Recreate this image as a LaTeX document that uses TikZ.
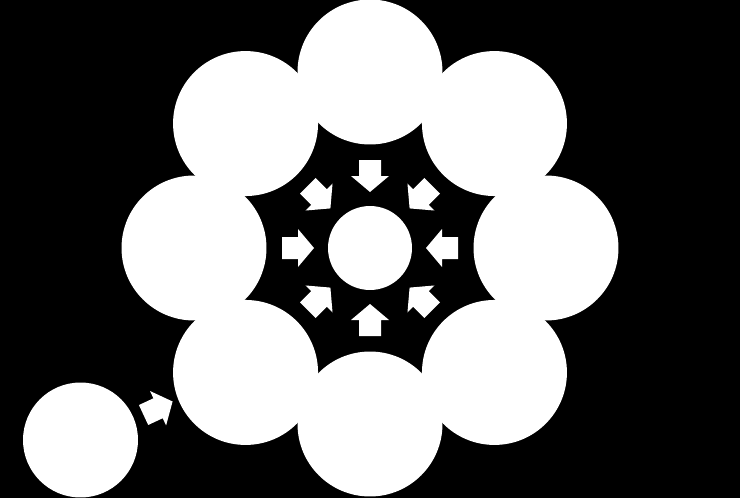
\documentclass[tikz,border=0pt]{standalone}
\usetikzlibrary{calc}
\begin{document}
\begin{tikzpicture}[x=0.02cm,y=0.02cm,
  disc/.style={circle, fill=white, draw=none, inner sep=0pt, minimum size=#1},
  pics/blockarrow/.style={code={\fill[white] (-16,-11) -- (0,-11) -- (0,-19) -- (16,0) -- (0,19) -- (0,11) -- (-16,11) -- cycle;}}]
\fill[black] (0,0) rectangle (740,498);
\useasboundingbox (0,0) rectangle (740,498);
\coordinate (c) at (370,250);
\foreach \a/\n in {0/r,45/tr,90/t,135/tl,180/l,225/bl,270/b,315/br}{
  \node[disc=2.9cm] (\n) at ($(c)+(\a:176)$) {};
}
\node[disc=1.68cm] (center) at (c) {};
\node[disc=2.3cm] (small) at (80.5,58) {};
\foreach \a in {0,45,...,315}{
  \pic[rotate=\a+180] at ($(c)+(\a:72)$) {blockarrow};
}
\pic[rotate=25] at ($(small)!0.47!(bl)$) {blockarrow};
\end{tikzpicture}
\end{document}
